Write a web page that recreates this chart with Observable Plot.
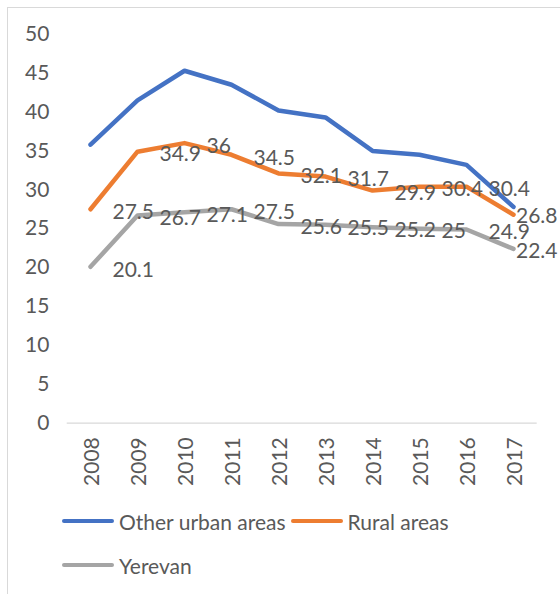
<!DOCTYPE html>
<html>
<head>
<meta charset="utf-8">
<script src="https://cdn.jsdelivr.net/npm/d3@7"></script>
<script src="https://cdn.jsdelivr.net/npm/@observablehq/plot@0.6"></script>
<style>
  html, body { margin: 0; padding: 0; background: #fff; overflow: hidden; }
  body { width: 560px; height: 594px; position: relative; font-family: Lato, "Open Sans", sans-serif; }
  #frame { position: absolute; left: 7px; top: 7px; width: 620px; height: 650px; border: 1px solid #d9d9d9; box-sizing: border-box; }
  #chart { position: absolute; left: 0; top: 0; }
  #legend { position: absolute; left: 62px; top: 499px; width: 420px; display: flex; flex-wrap: wrap; column-gap: 5px; }
  .item { display: flex; align-items: center; height: 44px; font-size: 21px; color: #595959; }
  .sw { width: 52px; height: 4px; border-radius: 2px; margin-right: 5px; }
</style>
</head>
<body>
<div id="frame"></div>
<div id="chart"></div>
<div id="legend"></div>
<script>
const years = ["2008","2009","2010","2011","2012","2013","2014","2015","2016","2017"];
const seriesNames = ["Other urban areas", "Rural areas", "Yerevan"];
const otherUrban = [35.8, 41.5, 45.3, 43.5, 40.2, 39.3, 35.0, 34.5, 33.2, 27.8];
const rural = [27.5, 34.9, 36, 34.5, 32.1, 31.7, 29.9, 30.4, 30.4, 26.8];
const yerevan = [20.1, 26.7, 27.1, 27.5, 25.6, 25.5, 25.2, 25, 24.9, 22.4];
const colors = ["#4472C4", "#ED7D31", "#A5A5A5"];
const yTicks = [0, 5, 10, 15, 20, 25, 30, 35, 40, 45, 50];

const values = [otherUrban, rural, yerevan];
const data = [];
seriesNames.forEach((s, i) => years.forEach((y, j) => data.push({series: s, year: y, value: values[i][j]})));
const labeled = data.filter(d => d.series !== "Other urban areas");
const lastYear = years[years.length - 1];

const font = "Lato, 'Open Sans', sans-serif";
const fs = 21;
const chart = Plot.plot({
  width: 560,
  height: 490,
  marginTop: 33.7,
  marginBottom: 67.3,
  marginLeft: 66.7,
  marginRight: 23.3,
  style: {fontFamily: font, fontSize: fs + "px", color: "#595959", background: "transparent"},
  x: {type: "point", domain: years, padding: 0.5, label: null},
  y: {domain: [0, 50], ticks: yTicks, label: null},
  color: {domain: seriesNames, range: colors},
  marks: [
    Plot.ruleY([0], {stroke: "#d9d9d9", strokeWidth: 1.3}),
    Plot.axisY({ticks: yTicks, tickSize: 0, tickPadding: 17.7, label: null, fill: "#595959", fontSize: fs}),
    Plot.axisX({tickSize: 0, tickRotate: -90, tickPadding: 14, label: null, fill: "#595959", fontSize: fs, dx: 2}),
    Plot.line(data, {x: "year", y: "value", z: "series", stroke: "series", strokeWidth: 4.5, strokeLinejoin: "round", strokeLinecap: "round"}),
    Plot.text(labeled.filter(d => d.year !== lastYear), {x: "year", y: "value", text: d => String(d.value), textAnchor: "start", dx: 22, dy: 3, fill: "#595959", fontSize: fs}),
    Plot.text(labeled.filter(d => d.year === lastYear), {x: "year", y: "value", text: d => String(d.value), textAnchor: "end", dx: 44, dy: 2, fill: "#595959", fontSize: fs})
  ]
});
document.getElementById("chart").appendChild(chart);

const legend = document.getElementById("legend");
seriesNames.forEach((s, i) => {
  const item = document.createElement("div");
  item.className = "item";
  const sw = document.createElement("div");
  sw.className = "sw";
  sw.style.background = colors[i];
  const t = document.createElement("span");
  t.textContent = s;
  item.appendChild(sw);
  item.appendChild(t);
  legend.appendChild(item);
});
</script>
</body>
</html>
